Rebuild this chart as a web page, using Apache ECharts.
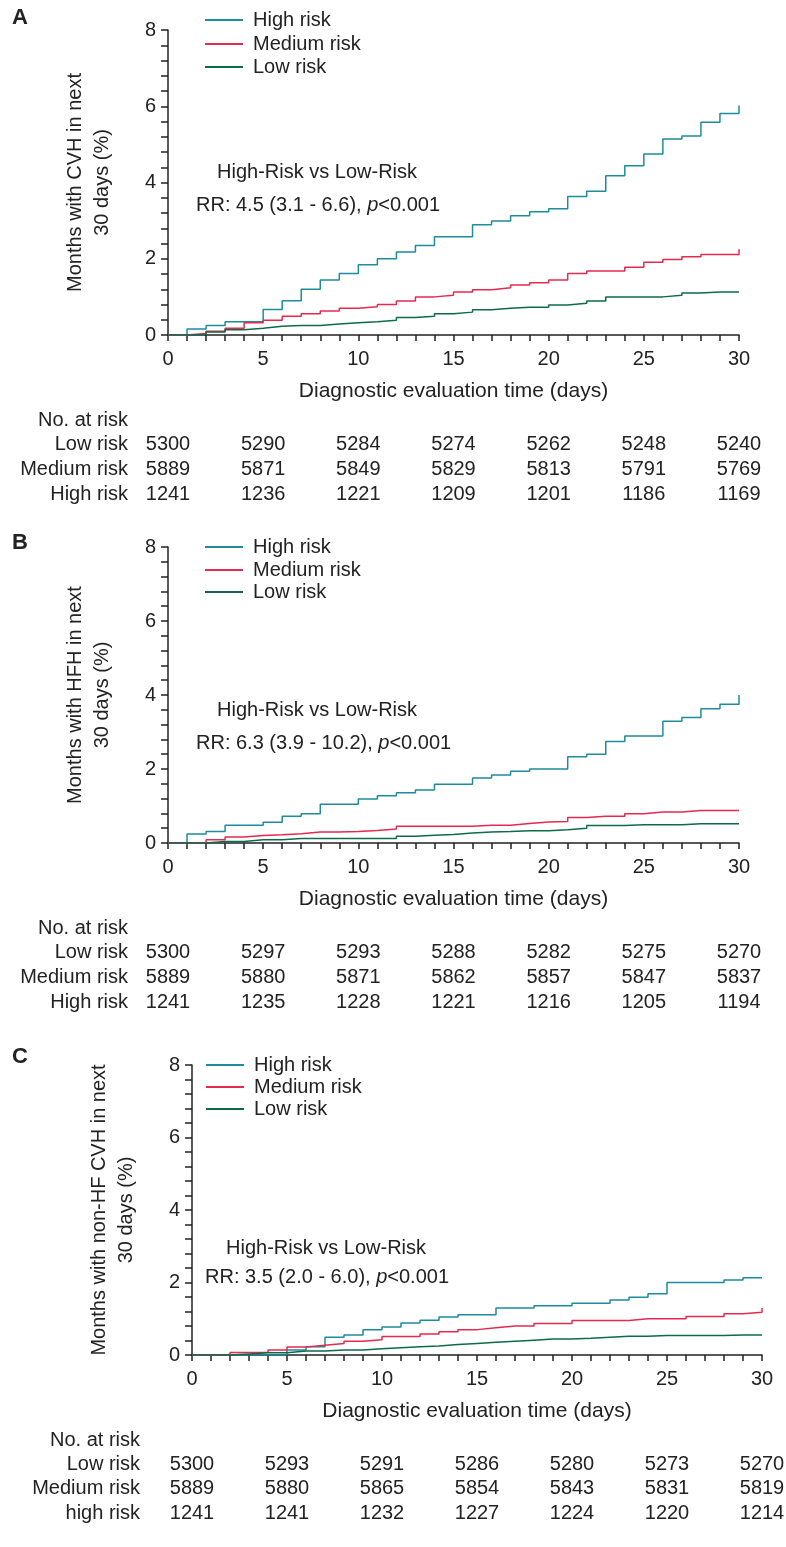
<!DOCTYPE html>
<html>
<head>
<meta charset="utf-8">
<script src="https://cdn.jsdelivr.net/npm/echarts@6/dist/echarts.min.js"></script>
<style>html,body{margin:0;padding:0;background:#fff}#main{width:786px;height:1547px}</style>
</head>
<body>
<div id="main"></div>
<script>
// days 0..30, cumulative % of months with event
const days = Array.from({length: 31}, (_, i) => i);
const riskDays = [0, 5, 10, 15, 20, 25, 30];

const highA = [0, 0.16, 0.25, 0.35, 0.35, 0.67, 0.9, 1.2, 1.44, 1.61, 1.84, 2.0, 2.18, 2.35, 2.58, 2.58, 2.89, 2.99, 3.13, 3.23, 3.31, 3.63, 3.77, 4.18, 4.44, 4.75, 5.14, 5.22, 5.58, 5.81, 6.02];
const medA = [0, 0.04, 0.1, 0.18, 0.32, 0.39, 0.49, 0.56, 0.63, 0.7, 0.74, 0.8, 0.89, 1.0, 1.04, 1.13, 1.19, 1.24, 1.31, 1.37, 1.44, 1.61, 1.68, 1.68, 1.78, 1.91, 1.98, 2.05, 2.11, 2.11, 2.25];
const lowA = [0, 0.01, 0.08, 0.14, 0.18, 0.23, 0.25, 0.25, 0.29, 0.32, 0.35, 0.39, 0.46, 0.49, 0.56, 0.6, 0.66, 0.7, 0.73, 0.73, 0.79, 0.83, 0.89, 1.0, 1.0, 1.0, 1.04, 1.1, 1.13, 1.13, 1.13];

const highB = [0, 0.24, 0.31, 0.48, 0.48, 0.56, 0.72, 0.79, 1.05, 1.05, 1.19, 1.28, 1.36, 1.43, 1.59, 1.59, 1.76, 1.84, 1.94, 2.0, 2.0, 2.33, 2.4, 2.74, 2.89, 2.89, 3.29, 3.39, 3.63, 3.75, 4.0];
const medB = [0, 0, 0.09, 0.16, 0.2, 0.22, 0.25, 0.3, 0.3, 0.31, 0.34, 0.38, 0.45, 0.45, 0.45, 0.45, 0.48, 0.48, 0.53, 0.57, 0.58, 0.69, 0.72, 0.72, 0.79, 0.84, 0.84, 0.88, 0.88, 0.88, 0.88];
const lowB = [0, 0, 0.04, 0.04, 0.09, 0.09, 0.12, 0.12, 0.12, 0.12, 0.12, 0.12, 0.18, 0.21, 0.23, 0.27, 0.3, 0.31, 0.33, 0.33, 0.36, 0.4, 0.47, 0.47, 0.49, 0.49, 0.49, 0.52, 0.52, 0.52, 0.52];

const highC = [0, 0, 0, 0, 0, 0.14, 0.23, 0.49, 0.55, 0.7, 0.77, 0.88, 0.96, 1.05, 1.11, 1.11, 1.3, 1.3, 1.36, 1.36, 1.43, 1.43, 1.52, 1.59, 1.69, 2.0, 2.0, 2.0, 2.07, 2.13, null];
const medC = [0, 0, 0.07, 0.07, 0.14, 0.22, 0.27, 0.32, 0.38, 0.42, 0.51, 0.51, 0.58, 0.64, 0.7, 0.75, 0.8, 0.8, 0.87, 0.87, 0.95, 0.95, 0.95, 1.0, 1.0, 1.0, 1.06, 1.06, 1.14, 1.18, 1.3];
const lowC = [0, 0, 0.03, 0.06, 0.06, 0.11, 0.11, 0.14, 0.14, 0.17, 0.2, 0.23, 0.25, 0.29, 0.32, 0.35, 0.38, 0.41, 0.44, 0.44, 0.46, 0.49, 0.52, 0.52, 0.54, 0.54, 0.54, 0.54, 0.55, 0.55, 0.55];

const atRiskA = {low: [5300, 5290, 5284, 5274, 5262, 5248, 5240], med: [5889, 5871, 5849, 5829, 5813, 5791, 5769], high: [1241, 1236, 1221, 1209, 1201, 1186, 1169]};
const atRiskB = {low: [5300, 5297, 5293, 5288, 5282, 5275, 5270], med: [5889, 5880, 5871, 5862, 5857, 5847, 5837], high: [1241, 1235, 1228, 1221, 1216, 1205, 1194]};
const atRiskC = {low: [5300, 5293, 5291, 5286, 5280, 5273, 5270], med: [5889, 5880, 5865, 5854, 5843, 5831, 5819], high: [1241, 1241, 1232, 1227, 1224, 1220, 1214]};

const colHigh = '#1d8c9c', colMed = '#e5294f', colLow = '#0d6b4c';
const font = '"Liberation Sans", Arial, sans-serif';
const fs = 20;

const panels = [
  {letter: 'A', letterY: 18, grid: {left: 168, right: 47, top: 30, height: 305}, yName: 'Months with CVH in next\n30 days (%)',
   data: [highA, medA, lowA], atRisk: atRiskA, highLabel: 'High risk',
   rr: 'RR: 4.5 (3.1 - 6.6), ', legY: [20, 44, 67], txtY: [172, 205], txtX: 217, rrX: 196, rowY: [420, 444, 469, 494], rowRight: 128, legX: 205},
  {letter: 'B', letterY: 543, grid: {left: 168, right: 47, top: 547, height: 296}, yName: 'Months with HFH in next\n30 days (%)',
   data: [highB, medB, lowB], atRisk: atRiskB, highLabel: 'High risk',
   rr: 'RR: 6.3 (3.9 - 10.2), ', legY: [547, 570, 592], txtY: [710, 743], txtX: 217, rrX: 196, rowY: [928, 952, 977, 1002], rowRight: 128, legX: 205},
  {letter: 'C', letterY: 1057, grid: {left: 192, right: 24, top: 1065, height: 290}, yName: 'Months with non-HF CVH in next\n30 days (%)',
   data: [highC, medC, lowC], atRisk: atRiskC, highLabel: 'high risk',
   rr: 'RR: 3.5 (2.0 - 6.0), ', legY: [1065, 1087, 1109], txtY: [1248, 1277], txtX: 226, rrX: 205, rowY: [1440, 1464, 1488, 1513], rowRight: 140, legX: 206}
];

const axisLine = {lineStyle: {color: '#222', width: 1.5}};
const grids = [], xAxes = [], yAxes = [], series = [];
panels.forEach((p, i) => {
  grids.push(p.grid);
  xAxes.push({
    gridIndex: i, type: 'value', min: 0, max: 30, interval: 1,
    axisLine: axisLine, axisTick: {length: 6, lineStyle: {color: '#222', width: 1.5}},
    splitLine: {show: false},
    axisLabel: {color: '#222', fontSize: fs, fontFamily: font, margin: 14, formatter: v => v % 5 === 0 ? v : ''},
    name: 'Diagnostic evaluation time (days)', nameLocation: 'middle', nameGap: 46,
    nameTextStyle: {color: '#222', fontSize: 21, fontFamily: font}
  });
  yAxes.push({
    gridIndex: i, type: 'value', min: 0, max: 8, interval: 2,
    axisLine: Object.assign({show: true}, axisLine),
    axisTick: {show: true, length: 7, lineStyle: {color: '#222', width: 1.5}},
    minorTick: {show: true, splitNumber: 5, length: 7, lineStyle: {color: '#222', width: 1.5}},
    splitLine: {show: false},
    axisLabel: {color: '#222', fontSize: fs, fontFamily: font, margin: 12},
    name: p.yName, nameLocation: 'middle', nameGap: 52, nameRotate: 90,
    nameTextStyle: {color: '#222', fontSize: fs, fontFamily: font, lineHeight: 27}
  });
  [colHigh, colMed, colLow].forEach((c, k) => {
    series.push({
      type: 'line', step: 'end', xAxisIndex: i, yAxisIndex: i, symbol: 'none',
      lineStyle: {color: c, width: 1.5}, data: days.map(d => [d, p.data[k][d]]),
      connectNulls: false, silent: true
    });
  });
});

const chart = echarts.init(document.getElementById('main'));
chart.setOption({animation: false, grid: grids, xAxis: xAxes, yAxis: yAxes, series: series});

// legends, annotations and at-risk tables placed from the axes
const g = [];
const txt = (x, y, s, extra) => g.push({type: 'text', x: x, y: y,
  style: Object.assign({text: s, fill: '#222', font: fs + 'px ' + font, textVerticalAlign: 'middle'}, extra || {})});
panels.forEach((p, i) => {
  txt(12, p.letterY, p.letter, {font: 'bold 22px ' + font});
  [['High risk', colHigh], ['Medium risk', colMed], ['Low risk', colLow]].forEach((l, k) => {
    const y = p.legY[k];
    g.push({type: 'line', shape: {x1: p.legX, y1: y, x2: p.legX + 38, y2: y}, style: {stroke: l[1], lineWidth: 2}});
    txt(p.legX + 48, y, l[0]);
  });
  txt(p.txtX, p.txtY[0], 'High-Risk vs Low-Risk');
  g.push({type: 'text', x: p.rrX, y: p.txtY[1], style: {
    text: '{n|' + p.rr + '}{i|p}{n|<0.001}', textVerticalAlign: 'middle',
    rich: {n: {fill: '#222', font: fs + 'px ' + font}, i: {fill: '#222', font: 'italic ' + fs + 'px ' + font}}}});
  txt(p.rowRight, p.rowY[0], 'No. at risk', {textAlign: 'right'});
  [['Low risk', p.atRisk.low], ['Medium risk', p.atRisk.med], [p.highLabel, p.atRisk.high]].forEach((r, k) => {
    const y = p.rowY[k + 1];
    txt(p.rowRight, y, r[0], {textAlign: 'right'});
    riskDays.forEach((d, j) => {
      const x = chart.convertToPixel({xAxisIndex: i}, d);
      txt(x, y, String(r[1][j]), {textAlign: 'center'});
    });
  });
});
chart.setOption({graphic: g});
</script>
</body>
</html>
